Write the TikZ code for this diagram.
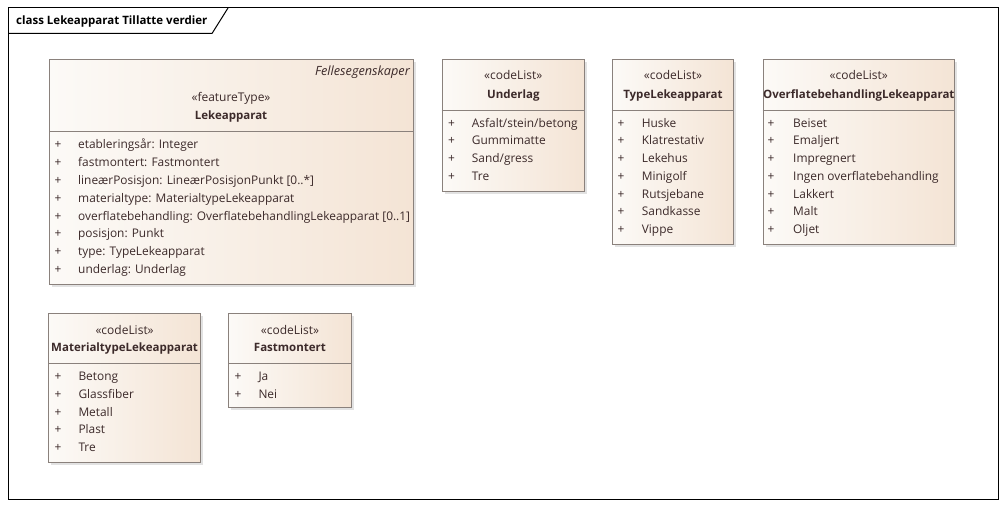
\documentclass[tikz,border=0pt]{standalone}
\usepackage{fontspec}
\setmainfont{Open Sans}
\usetikzlibrary{shadows}
\definecolor{boxL}{HTML}{FCFAF7}
\definecolor{boxR}{HTML}{F4E4D5}
\definecolor{boxline}{HTML}{8A817C}
\definecolor{txt}{HTML}{3C2A2A}
\tikzset{
 classbox/.style={draw=boxline, line width=0.9pt, left color=boxL, right color=boxR, anchor=north west, inner sep=0pt,
   drop shadow={shadow xshift=2.5pt, shadow yshift=-2.5pt, fill=black!22}},
 stereo/.style={font=\fontsize{12}{14}\selectfont, text=txt, inner sep=0pt, anchor=base},
 cname/.style={font=\fontsize{11.5}{14}\selectfont\bfseries, text=txt, inner sep=0pt, anchor=base},
 item/.style={font=\fontsize{11.9}{14}\selectfont, text=txt, inner sep=0pt, anchor=base west},
 divider/.style={draw=boxline, line width=0.9pt},
}
\begin{document}
\begin{tikzpicture}[x=1pt,y=-1pt]
\useasboundingbox (0,0) rectangle (1007,508);
\fill[white] (0,0) rectangle (1007,508);
% frame
\draw[line width=1pt] (8,8) rectangle (998.5,499);
\draw[line width=1pt] (8,33.5) -- (212,33.5) -- (228,8);
\node[font=\fontsize{11.5}{14}\selectfont\bfseries, inner sep=0pt, anchor=base west] (title) at (16,25) {class Lekeapparat Tillatte verdier};

% Lekeapparat
\node[classbox, minimum width=364pt, minimum height=225pt] (lek) at (49,59) {};
\draw[divider] (lek.west |- 0,131) -- (lek.east |- 0,131);
\node[stereo, anchor=base east, font=\fontsize{12.7}{14}\selectfont\itshape] (lekfelles) at (410,76) {Fellesegenskaper};
\node[stereo] (lekst) at (231,102) {«featureType»};
\node[cname] (lekname) at (231,119.5) {Lekeapparat};
\foreach \t [count=\i] in {{etableringsår: Integer},{fastmontert: Fastmontert},{lineærPosisjon: LineærPosisjonPunkt [0..*]},{materialtype: MaterialtypeLekeapparat},{overflatebehandling: OverflatebehandlingLekeapparat [0..1]},{posisjon: Punkt},{type: TypeLekeapparat},{underlag: Underlag}}{
  \node[item] (lekp\i) at (54.5,{149+17.75*(\i-1)}) {+};
  \node[item] (leka\i) at (78,{149+17.75*(\i-1)}) {\t};
}

% Underlag
\node[classbox, minimum width=142.3pt, minimum height=132pt] (und) at (441.7,59) {};
\draw[divider] (und.west |- 0,110) -- (und.east |- 0,110);
\node[stereo] (undst) at (und.north |- 0,80) {«codeList»};
\node[cname] (undname) at (und.north |- 0,98.5) {Underlag};
\foreach \t [count=\i] in {{Asfalt/stein/betong},{Gummimatte},{Sand/gress},{Tre}}{
  \node[item] (undp\i) at (448,{127.3+17.7*(\i-1)}) {+};
  \node[item] (unda\i) at (471.7,{127.3+17.7*(\i-1)}) {\t};
}

% TypeLekeapparat
\node[classbox, minimum width=121.6pt, minimum height=185.3pt] (typ) at (611.7,59) {};
\draw[divider] (typ.west |- 0,110) -- (typ.east |- 0,110);
\node[stereo] (typst) at (typ.north |- 0,80) {«codeList»};
\node[cname] (typname) at (typ.north |- 0,98.5) {TypeLekeapparat};
\foreach \t [count=\i] in {{Huske},{Klatrestativ},{Lekehus},{Minigolf},{Rutsjebane},{Sandkasse},{Vippe}}{
  \node[item] (typp\i) at (617.5,{127.3+17.7*(\i-1)}) {+};
  \node[item] (typa\i) at (641.7,{127.3+17.7*(\i-1)}) {\t};
}

% OverflatebehandlingLekeapparat
\node[classbox, minimum width=191.3pt, minimum height=185.3pt] (ovf) at (762.7,59) {};
\draw[divider] (ovf.west |- 0,110) -- (ovf.east |- 0,110);
\node[stereo] (ovfst) at (ovf.north |- 0,80) {«codeList»};
\node[cname] (ovfname) at (ovf.north |- 0,98.5) {OverflatebehandlingLekeapparat};
\foreach \t [count=\i] in {{Beiset},{Emaljert},{Impregnert},{Ingen overflatebehandling},{Lakkert},{Malt},{Oljet}}{
  \node[item] (ovfp\i) at (767.5,{127.3+17.7*(\i-1)}) {+};
  \node[item] (ovfa\i) at (793,{127.3+17.7*(\i-1)}) {\t};
}

% MaterialtypeLekeapparat
\node[classbox, minimum width=151.7pt, minimum height=149pt] (mat) at (48.3,313.3) {};
\draw[divider] (mat.west |- 0,363.3) -- (mat.east |- 0,363.3);
\node[stereo] (matst) at (mat.north |- 0,334) {«codeList»};
\node[cname] (matname) at (mat.north |- 0,351.8) {MaterialtypeLekeapparat};
\foreach \t [count=\i] in {{Betong},{Glassfiber},{Metall},{Plast},{Tre}}{
  \node[item] (matp\i) at (54.5,{380.7+17.75*(\i-1)}) {+};
  \node[item] (mata\i) at (78.3,{380.7+17.75*(\i-1)}) {\t};
}

% Fastmontert
\node[classbox, minimum width=122.4pt, minimum height=93.4pt] (fst) at (228.3,313.3) {};
\draw[divider] (fst.west |- 0,363.3) -- (fst.east |- 0,363.3);
\node[stereo] (fstst) at (fst.north |- 0,334) {«codeList»};
\node[cname] (fstname) at (fst.north |- 0,351.8) {Fastmontert};
\foreach \t [count=\i] in {{Ja},{Nei}}{
  \node[item] (fstp\i) at (234.5,{380.7+17.75*(\i-1)}) {+};
  \node[item] (fsta\i) at (258.3,{380.7+17.75*(\i-1)}) {\t};
}
\end{tikzpicture}
\end{document}
